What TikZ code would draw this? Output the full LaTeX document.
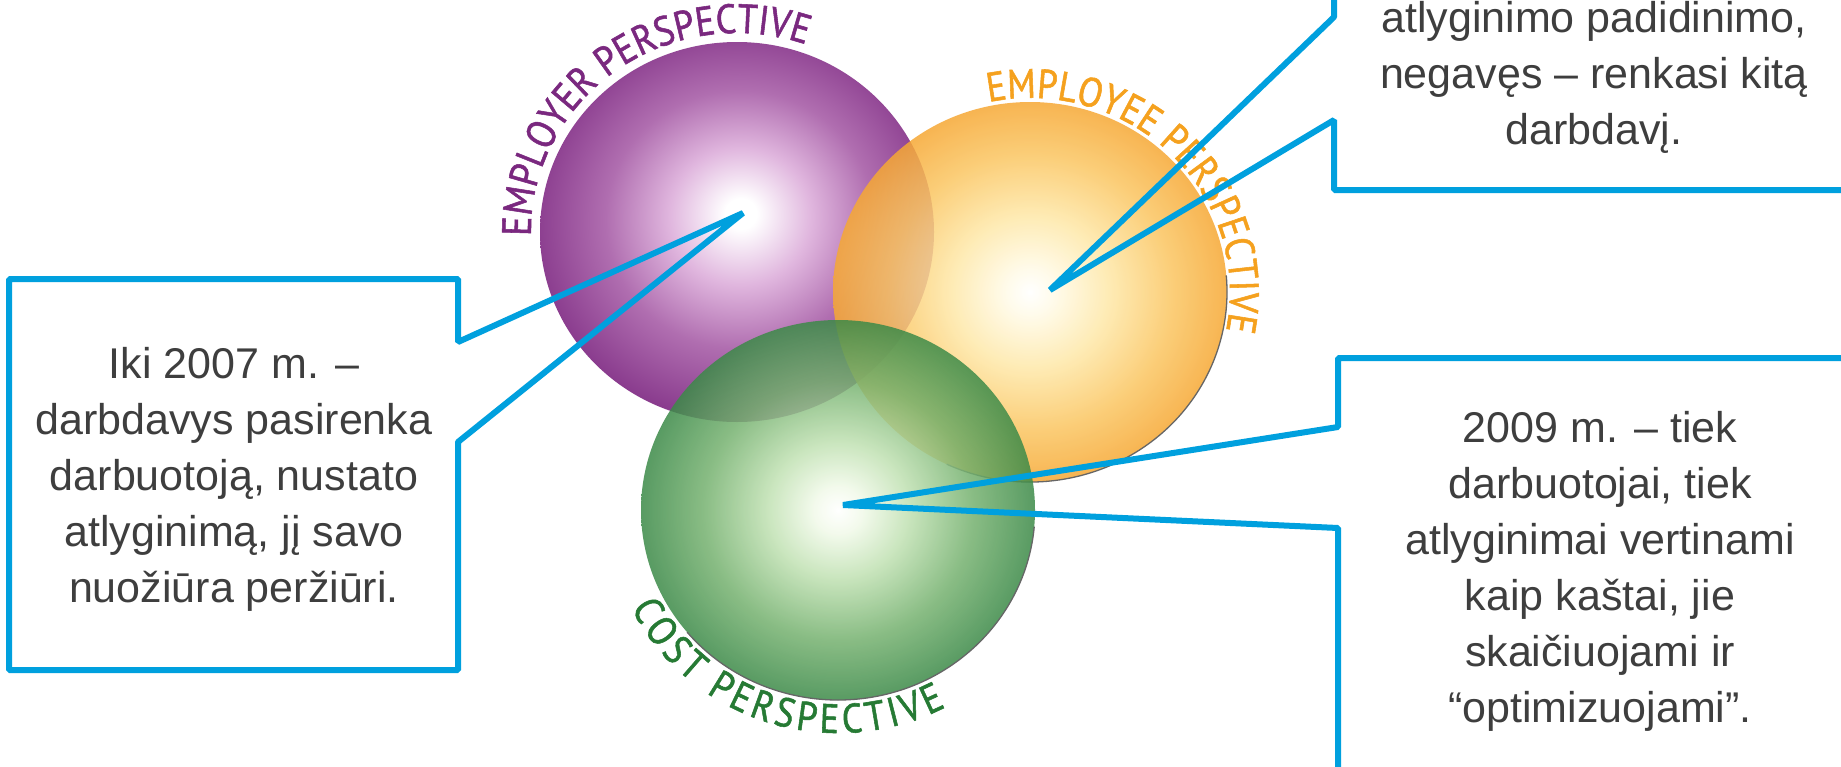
\documentclass[tikz,border=0pt]{standalone}
\usepackage{fontspec}
\setmainfont{Liberation Sans}
\newfontfamily\arcfontfam[FakeBold=1.3,FakeStretch=0.88]{PT Sans}
\usetikzlibrary{decorations.text,calc}
\definecolor{calloutblue}{RGB}{0,160,222}
\definecolor{txtgray}{RGB}{62,62,62}
\definecolor{purpEdge}{RGB}{138,60,142}
\definecolor{purpMid}{RGB}{176,110,176}
\definecolor{purpLight}{RGB}{224,182,222}
\definecolor{purpText}{RGB}{122,40,127}
\definecolor{orEdge}{RGB}{246,168,52}
\definecolor{orMid}{RGB}{251,198,98}
\definecolor{orLight}{RGB}{254,232,168}
\definecolor{orCenter}{RGB}{255,251,232}
\definecolor{orText}{RGB}{245,161,30}
\definecolor{grEdge}{RGB}{60,138,72}
\definecolor{grMid}{RGB}{118,178,112}
\definecolor{grLight}{RGB}{192,225,178}
\definecolor{grCenter}{RGB}{242,250,234}
\definecolor{grText}{RGB}{38,122,52}
\pgfdeclareradialshading{purpball}{\pgfpoint{0.5bp}{2.5bp}}{color(0bp)=(white); color(2bp)=(white); color(9bp)=(purpLight); color(17bp)=(purpMid); color(26bp)=(purpEdge); color(50bp)=(purpEdge)}
\pgfdeclareradialshading{orball}{\pgfpoint{0bp}{0bp}}{color(0bp)=(white); color(3bp)=(orCenter); color(10bp)=(orLight); color(18bp)=(orMid); color(25bp)=(orEdge); color(50bp)=(orEdge)}
\pgfdeclareradialshading{grball}{\pgfpoint{0bp}{0bp}}{color(0bp)=(white); color(3bp)=(grCenter); color(9bp)=(grLight); color(17bp)=(grMid); color(25bp)=(grEdge); color(50bp)=(grEdge)}
\newcommand\arcfont{\arcfontfam\fontsize{41}{44}\selectfont}
\begin{document}
\begin{tikzpicture}[x=1pt,y=-1pt,
  callout/.style={draw=calloutblue, line width=6pt, line join=bevel},
  callouttext/.style={inner sep=0pt, align=center, text=txtgray, font=\fontsize{43}{56}\selectfont, anchor=north},
  rim/.style={draw=black!60, line width=1.3pt},
  ballsize/.style={x radius=197pt, y radius=190pt}]
\useasboundingbox (0,0) rectangle (1841,766);
\fill[white] (0,0) rectangle (1841,766);
\clip (0,0) rectangle (1841,766);
\coordinate (P) at (737,232);
\coordinate (O) at (1030,292);
\coordinate (G) at (838,510);
% spheres
\shade[shading=purpball] (P) ellipse[ballsize];
\shade[shading=orball, opacity=0.85] (O) ellipse[ballsize];
\draw[rim] ($(O)+(-115:197pt and 190pt)$) arc[start angle=-115, end angle=5, ballsize];
\shade[shading=grball, opacity=0.85] (G) ellipse[ballsize];
\draw[rim] ($(G)+(-140:197pt and 190pt)$) arc[start angle=-140, end angle=-5, ballsize];
% curved labels
\path[decorate, decoration={text along path, text align=center,
  text={|\arcfont\color{purpText}|EMPLOYER PERSPECTIVE}}]
  ($(P)+(196:206pt and 199pt)$) arc[start angle=196, end angle=56, x radius=206pt, y radius=199pt];
\path[decorate, decoration={text along path, text align=center,
  text={|\arcfont\color{orText}|EMPLOYEE PERSPECTIVE}}]
  ($(O)+(115:200pt and 194pt)$) arc[start angle=115, end angle=-25, x radius=200pt, y radius=194pt];
\path[decorate, decoration={text along path, text align=fit to path,
  text={|\arcfont\color{grText}|COST PERSPECTIVE}}]
  ($(G)+(206:230pt and 223pt)$) arc[start angle=206, end angle=298, x radius=230pt, y radius=223pt];
% callouts
\coordinate (tipP) at (743,213);
\coordinate (tipO) at (1050,290);
\coordinate (tipG) at (843,505);
\draw[callout] (458,279) -- (9,279) -- (9,670) -- (458,670) -- (458,442) -- (tipP) -- (458,342) -- cycle;
\draw[callout] (1334,-20) -- (1334,17) -- (tipO) -- (1334,120) -- (1334,190) -- (1860,190);
\draw[callout] (1860,358) -- (1338,358) -- (1338,427) -- (tipG) -- (1338,528) -- (1338,790);
% texts
\node[callouttext] (tL) at (234,338.8) {\strut Iki 2007 m. –\\\strut darbdavys pasirenka\\\strut darbuotoją, nustato\\\strut atlyginimą, jį savo\\\strut nuožiūra peržiūri.};
\node[callouttext] (tO) at (1594,-7.2) {\strut atlyginimo padidinimo,\\\strut negavęs – renkasi kitą\\\strut darbdavį.};
\node[callouttext] (tG) at (1600,402.8) {\strut 2009 m. – tiek\\\strut darbuotojai, tiek\\\strut atlyginimai vertinami\\\strut kaip kaštai, jie\\\strut skaičiuojami ir\\\strut “optimizuojami”.};
\end{tikzpicture}
\end{document}
